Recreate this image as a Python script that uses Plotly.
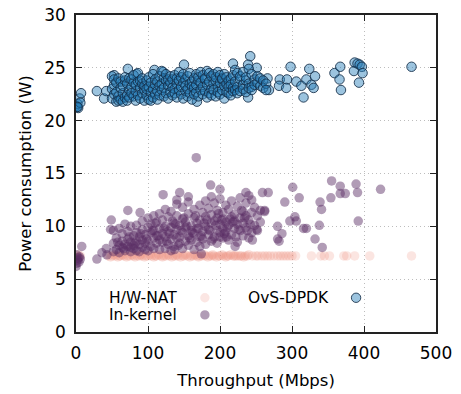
import plotly.graph_objects as go

# ---------------- data ----------------
# OvS-DPDK
ovs_x = [0, 1, 2, 3, 5, 6, 7, 2, 29, 39, 42, 53, 72, 84, 109, 121, 150, 168, 218, 242, 239, 251, 239,
         266, 268, 283, 282, 293, 292, 298, 306, 313, 316, 320, 324, 327, 330, 332, 359, 367, 366, 368,
         386, 387, 391, 394, 397, 398, 393, 466]
ovs_y = [21.4, 21.3, 21.6, 21.2, 22.1, 21.7, 22.6, 21.3, 22.8, 22.1, 22.8, 24.3, 24.9, 24.4, 24.8, 24.6, 25.3, 21.8, 25.4, 26.1, 25.3, 25.0, 22.2,
         24.0, 22.9, 23.9, 23.3, 23.9, 23.1, 25.1, 23.7, 23.3, 22.2, 23.9, 24.9, 23.4, 23.1, 24.2, 24.5, 25.1, 23.9, 22.9,
         24.7, 25.5, 25.4, 25.3, 25.1, 24.5, 23.6, 25.1]
ovs_cx = [50, 50, 50, 53, 53, 53, 56, 56, 56, 59, 59, 59, 62, 62, 62, 65, 65, 65, 68, 68, 68, 71, 71, 71,
          74, 74, 74, 77, 77, 77, 80, 80, 80, 83, 83, 83, 86, 86, 86, 89, 89, 89, 92, 92, 92, 95, 95, 95,
          98, 98, 98, 101, 101, 101, 104, 104, 104, 107, 107, 107, 110, 110, 110, 113, 113, 113,
          116, 116, 116, 119, 119, 119, 122, 122, 122, 125, 125, 125, 128, 128, 128, 131, 131, 131,
          134, 134, 134, 137, 137, 137, 140, 140, 140, 143, 143, 143, 146, 146, 146, 149, 149, 149,
          152, 152, 152, 155, 155, 155, 158, 158, 158, 161, 161, 161, 164, 164, 164, 167, 167, 167,
          170, 170, 170, 173, 173, 173, 176, 176, 176, 179, 179, 179, 182, 182, 182, 185, 185, 185,
          188, 188, 188, 191, 191, 191, 194, 194, 194, 197, 197, 197, 200, 200, 200, 203, 203, 203,
          206, 206, 206, 209, 209, 209, 212, 212, 212, 215, 215, 215, 218, 218, 218, 221, 221, 221,
          224, 224, 224, 228, 228, 228, 232, 232, 232, 236, 236, 236, 240, 240, 240, 244, 244, 244,
          248, 248, 252, 252, 256, 256, 260, 260, 264, 264]
ovs_cy = [22.1, 23.0, 24.2, 22.5, 23.4, 23.9, 21.8, 22.7, 23.6, 22.3, 21.9, 24.0, 23.1, 22.0, 23.7, 22.6, 23.3, 21.8,
          22.2, 23.8, 24.1, 23.5, 22.4, 21.9, 22.9, 24.0, 22.2, 23.2, 22.6, 23.9, 22.3, 23.6, 24.3, 22.8, 21.9, 23.4,
          23.7, 22.4, 24.5, 22.1, 23.1, 23.8, 22.6, 23.5, 24.0, 21.9, 22.9, 23.3, 22.4, 23.8, 23.0, 23.2, 22.0, 24.1,
          22.7, 23.6, 21.9, 23.0, 22.2, 24.4, 23.4, 22.5, 23.9, 22.0, 23.7, 22.8, 23.3, 24.2, 22.4, 22.9, 23.5, 24.7,
          22.3, 23.1, 24.0, 23.8, 22.6, 24.4, 22.1, 23.3, 23.9, 23.6, 22.7, 24.2, 22.4, 23.9, 23.1, 23.0, 24.3, 22.6,
          22.2, 23.5, 24.0, 23.8, 22.9, 24.6, 22.5, 23.2, 24.1, 23.6, 22.1, 24.4, 22.8, 23.9, 23.3, 22.3, 24.2, 23.0,
          23.5, 22.6, 24.5, 22.0, 23.7, 23.2, 23.1, 24.0, 22.5, 22.7, 23.4, 24.4, 23.8, 22.3, 24.1, 22.9, 23.6, 24.6,
          23.2, 22.5, 24.3, 22.8, 23.9, 24.0, 23.4, 22.2, 24.7, 22.6, 23.7, 24.5, 23.0, 24.2, 22.4, 23.5, 22.9, 24.4,
          22.3, 23.8, 24.1, 23.2, 24.6, 22.7, 23.6, 22.5, 24.3, 22.9, 23.9, 24.0, 23.3, 22.1, 24.4, 22.7, 23.5, 24.1,
          23.8, 22.6, 23.2, 22.4, 24.0, 23.4, 23.1, 24.3, 22.8, 23.7, 22.9, 24.8, 23.2, 24.5, 22.6, 23.9, 22.8, 24.2,
          23.4, 24.6, 23.0, 22.7, 23.8, 24.1, 23.5, 24.9, 23.1, 23.2, 24.4, 22.9, 23.9, 23.4, 23.6, 24.2, 23.3, 24.0,
          23.8, 23.1, 23.5, 22.9]

# In-kernel
ink_x = [0, 1, 2, 3, 4, 5, 6, 8, 1, 29, 36, 43, 42, 49, 48, 72, 89, 137, 140, 121, 144, 156, 167, 187, 200,
         236, 259, 267, 301, 290, 310, 339, 341, 355, 354, 367, 367, 374, 389, 391, 423, 392, 338, 332, 342,
         316, 320, 304, 306, 297, 280, 286, 280, 282, 262, 245, 251, 221, 200, 209, 174]
ink_y = [6.2, 6.5, 6.8, 7.0, 6.6, 7.1, 6.9, 8.1, 7.3, 6.9, 7.5, 7.3, 7.9, 10.6, 9.7, 11.5, 11.3, 7.8, 12.5, 13.0, 13.2, 12.8, 16.5, 13.9, 13.5,
         13.2, 13.2, 13.2, 13.7, 12.3, 12.7, 12.3, 11.6, 14.3, 12.7, 13.8, 13.1, 13.1, 14.0, 13.2, 13.5, 10.5, 10.1, 8.8, 8.0,
         9.8, 9.8, 10.9, 10.5, 10.5, 10.0, 9.3, 8.8, 8.6, 11.5, 8.7, 9.7, 8.1, 9.0, 9.0, 7.4]
ink_cx = [52, 52, 52, 56, 56, 60, 60, 60, 64, 64, 64, 68, 68, 68, 72, 72, 72, 76, 76, 76, 76, 80, 80, 80,
          84, 84, 84, 84, 88, 88, 88, 92, 92, 92, 92, 96, 96, 96, 100, 100, 100, 100, 104, 104, 104,
          108, 108, 108, 108, 112, 112, 112, 116, 116, 116, 116, 120, 120, 120, 124, 124, 124, 124,
          128, 128, 128, 132, 132, 132, 132, 136, 136, 136, 140, 140, 140, 140, 144, 144, 144,
          148, 148, 148, 148, 152, 152, 152, 156, 156, 156, 156, 160, 160, 160, 164, 164, 164, 164,
          168, 168, 168, 172, 172, 172, 172, 176, 176, 176, 180, 180, 180, 180, 184, 184, 184,
          188, 188, 188, 188, 192, 192, 192, 196, 196, 196, 196, 200, 200, 200, 204, 204, 204, 204,
          208, 208, 208, 212, 212, 212, 216, 216, 216, 220, 220, 220, 224, 224, 224, 228, 228, 228,
          232, 232, 232, 236, 236, 236, 240, 240, 240, 244, 244, 244, 248, 248, 252, 252, 256, 256, 262]
ink_cy = [7.6, 8.4, 9.6, 7.8, 8.9, 7.5, 8.2, 9.8, 8.0, 8.6, 9.3, 7.7, 8.3, 10.2, 8.1, 8.8, 9.5, 7.6, 8.5, 10.0, 8.0,
          8.2, 9.1, 7.9, 7.7, 8.6, 10.1, 9.4, 8.3, 9.0, 7.6, 8.0, 9.7, 8.7, 10.5, 7.8, 8.4, 9.2, 8.6, 9.9, 10.8, 7.7,
          8.1, 9.4, 10.2, 8.9, 9.6, 7.9, 11.0, 8.4, 9.1, 10.4, 7.8, 9.8, 11.2, 8.7, 8.5, 9.3, 10.6, 9.0, 10.0, 7.9, 11.6,
          8.3, 9.5, 10.9, 8.8, 9.9, 11.4, 7.7, 8.1, 9.2, 10.3, 8.9, 9.7, 11.0, 12.1, 8.4, 10.1, 9.0,
          7.9, 9.4, 10.7, 11.8, 8.6, 9.9, 10.4, 8.2, 9.1, 11.2, 12.3, 8.7, 9.6, 10.0, 7.8, 9.3, 10.8, 11.6,
          8.5, 9.8, 10.3, 9.0, 10.6, 12.0, 8.1, 8.8, 9.5, 11.3, 8.3, 10.0, 10.9, 12.4, 9.2, 9.7, 11.7,
          8.6, 10.3, 11.1, 12.8, 9.0, 10.5, 12.2, 8.4, 9.6, 10.8, 11.5, 9.4, 10.2, 12.6, 8.9, 10.7, 11.3, 9.8,
          9.5, 10.4, 12.0, 8.7, 10.1, 11.6, 9.2, 10.9, 12.4, 9.8, 10.5, 11.1, 8.5, 10.2, 11.9, 9.6, 10.8, 12.7,
          9.1, 10.3, 11.4, 9.9, 11.0, 12.2, 8.9, 10.6, 12.9, 9.4, 11.3, 12.5, 10.1, 11.8, 9.6, 11.0, 10.4, 11.5, 11.4]
# additional In-kernel points in the dense core
ink_dx = [58, 66, 74, 82, 90, 98, 106, 114, 122, 130, 138, 146, 154, 162, 170, 178, 186, 194, 202, 210,
          218, 226, 234, 242, 110, 126, 142, 158, 174, 190, 206, 222, 238, 150, 166, 182, 198, 214, 230, 134]
ink_dy = [8.5, 7.9, 9.0, 8.4, 9.3, 8.8, 9.6, 9.1, 9.8, 9.3, 10.2, 9.6, 10.0, 9.4, 9.8, 10.3, 9.6, 10.1, 10.6, 9.9,
          10.4, 9.7, 10.8, 10.2, 10.3, 8.6, 8.2, 8.9, 9.1, 8.8, 9.3, 9.0, 9.6, 10.8, 11.0, 10.6, 11.2, 10.7, 11.5, 10.5]

# H/W-NAT
hw_x = [0, 1, 2, 3, 4, 6, 45, 48, 50, 53, 55, 58, 60, 62, 65, 67, 70, 72, 75, 78, 80, 82, 85, 88, 90, 92,
        95, 97, 100, 103, 105, 108, 110, 112, 115, 118, 120, 122, 125, 128, 130, 133, 135, 138, 140, 142,
        145, 148, 150, 152, 155, 158, 160, 163, 165, 168, 170, 172, 175, 178, 180, 183, 185, 188, 190, 192,
        195, 198, 200, 203, 205, 208, 210, 212, 215, 218, 220, 222, 225, 228, 230, 233, 235, 238, 240, 245,
        250, 253, 258, 262, 266, 270, 275, 280, 284, 288, 292, 296, 300, 305, 327, 340, 345, 352, 372, 376,
        387, 408, 466]
hw_y = [7.0, 7.2, 6.9, 7.3, 7.1, 7.2, 7.2, 7.1, 7.2, 7.3, 7.2, 7.1, 7.2, 7.2, 7.3, 7.2, 7.1, 7.2, 7.2, 7.3,
        7.2, 7.1, 7.2, 7.2, 7.3, 7.2, 7.1, 7.2, 7.2, 7.3, 7.2, 7.1, 7.2, 7.2, 7.3, 7.2, 7.1, 7.2, 7.2, 7.3,
        7.2, 7.1, 7.2, 7.2, 7.3, 7.2, 7.1, 7.2, 7.2, 7.3, 7.2, 7.1, 7.2, 7.2, 7.3, 7.2, 7.1, 7.2, 7.2, 7.3,
        7.2, 7.1, 7.2, 7.2, 7.3, 7.2, 7.1, 7.2, 7.2, 7.3, 7.2, 7.1, 7.2, 7.2, 7.3, 7.2, 7.2, 7.2, 7.2, 7.2,
        7.2, 7.1, 7.2, 7.2, 7.3, 7.2, 7.2, 7.2, 7.2, 7.2, 7.2, 7.2, 7.2, 7.2, 7.2, 7.2, 7.2, 7.2, 7.2, 7.2,
        7.2, 7.2, 7.2, 7.2, 7.2, 7.2, 7.2, 7.2, 7.2]

x_ticks = [0, 100, 200, 300, 400, 500]
y_ticks = [0, 5, 10, 15, 20, 25, 30]

# ---------------- figure ----------------
FONT = "DejaVu Sans"
HW_COL = "rgba(235,130,115,0.21)"
INK_COL = "rgba(90,45,100,0.47)"
OVS_COL = "rgba(35,125,185,0.45)"
OVS_LINE = "rgba(20,45,70,0.85)"
MS = 9.5
TICK_FS = 17
TITLE_FS = 16.5
LEG_FS = 15.5

fig = go.Figure()
fig.add_trace(go.Scatter(x=hw_x, y=hw_y, mode="markers", name="H/W-NAT",
                         marker=dict(size=MS, color=HW_COL, line=dict(width=0))))
fig.add_trace(go.Scatter(x=ink_x + ink_cx + ink_dx, y=ink_y + ink_cy + ink_dy, mode="markers", name="In-kernel",
                         marker=dict(size=MS, color=INK_COL, line=dict(width=0))))
fig.add_trace(go.Scatter(x=ovs_x + ovs_cx, y=ovs_y + ovs_cy, mode="markers", name="OvS-DPDK",
                         marker=dict(size=MS, color=OVS_COL, line=dict(width=1, color=OVS_LINE))))

axis_common = dict(showline=True, linecolor="#222222", linewidth=1.6, mirror="allticks",
                   ticks="inside", ticklen=6, tickwidth=1.2, tickcolor="#222222",
                   showgrid=True, gridcolor="#bdbdbd", griddash="1px,3px", gridwidth=1,
                   zeroline=False, automargin=False,
                   tickfont=dict(family=FONT, size=TICK_FS, color="black"))

fig.update_xaxes(range=[0, 500], tickvals=x_ticks, ticktext=[str(v) for v in x_ticks],
                 title=dict(text="Throughput (Mbps)", font=dict(family=FONT, size=TITLE_FS, color="black"), standoff=12),
                 ticklabelstandoff=5, **axis_common)
fig.update_yaxes(range=[0, 30], tickvals=y_ticks, ticktext=[str(v) for v in y_ticks],
                 title=dict(text="Power consumption (W)", font=dict(family=FONT, size=TITLE_FS, color="black"), standoff=8),
                 ticklabelstandoff=5, **axis_common)

# gnuplot-style legend: text followed by sample marker
leg = [("H/W-NAT", 0.086, 0.108, 0.358, "rgba(235,130,115,0.2)", None),
       ("In-kernel", 0.086, 0.054, 0.358, INK_COL, None),
       ("OvS-DPDK", 0.472, 0.108, 0.778, OVS_COL, OVS_LINE)]
shapes = []
annotations = []
for text, tx, ty, mx, col, lc in leg:
    annotations.append(dict(text=text, x=tx, y=ty, xref="paper", yref="paper", xanchor="left",
                            yanchor="middle", showarrow=False, font=dict(family=FONT, size=LEG_FS, color="black")))
    rx, ry = 4.7 / 360, 4.7 / 317
    shapes.append(dict(type="circle", xref="paper", yref="paper", x0=mx - rx, x1=mx + rx,
                       y0=ty - ry, y1=ty + ry, fillcolor=col,
                       line=dict(width=1 if lc else 0, color=lc if lc else "rgba(0,0,0,0)")))

fig.update_layout(width=461, height=394, margin=dict(l=76, r=25, t=15, b=62, autoexpand=False),
                  plot_bgcolor="white", paper_bgcolor="white", showlegend=False,
                  shapes=shapes, annotations=annotations,
                  font=dict(family=FONT, size=TICK_FS, color="black"))

fig.write_html("out.html")
